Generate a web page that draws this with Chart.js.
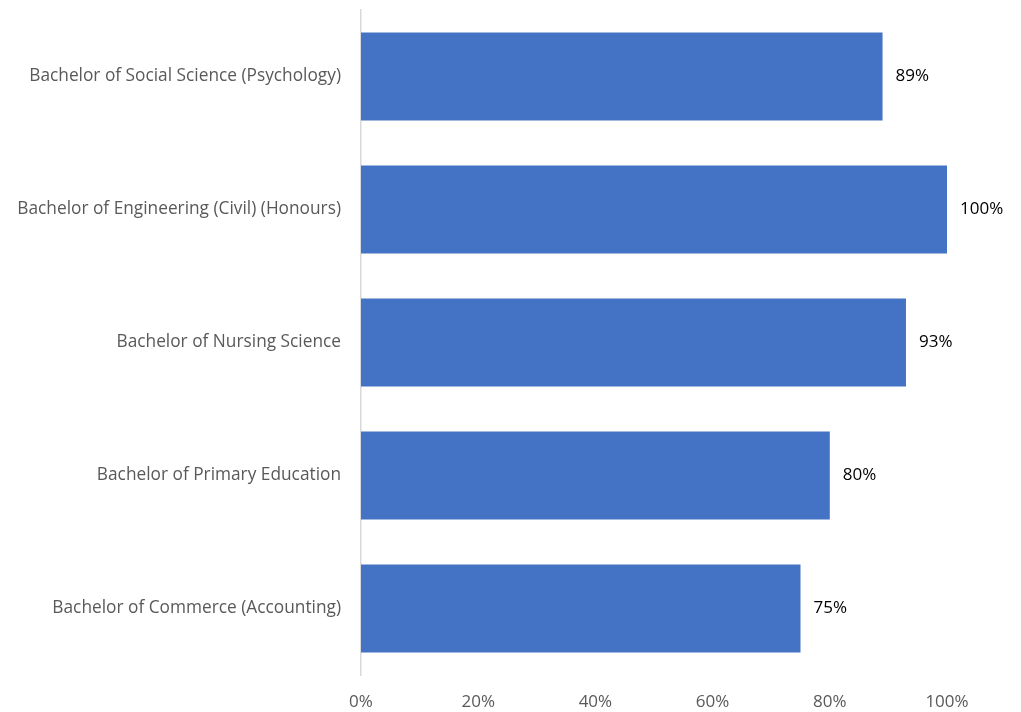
<!DOCTYPE html>
<html>
<head>
<meta charset="utf-8">
<script src="https://cdn.jsdelivr.net/npm/chart.js@4.4.0/dist/chart.umd.min.js"></script>
<style>
  html, body { margin: 0; padding: 0; background: #fff; }
  #chart { display: block; }
</style>
</head>
<body>
<canvas id="chart" width="1021" height="712"></canvas>
<script>
// Kategorien und Werte (in Prozent)
const categories = [
    "Bachelor of Social Science (Psychology)",
    "Bachelor of Engineering (Civil) (Honours)",
    "Bachelor of Nursing Science",
    "Bachelor of Primary Education",
    "Bachelor of Commerce (Accounting)",
];
const values = [89, 100, 93, 80, 75];
const xTicks = [0, 20, 40, 60, 80, 100];

const FONT = "'Open Sans', 'Noto Sans', sans-serif";

// Werte-Beschriftung rechts neben den Balken
const valueLabels = {
    id: "valueLabels",
    afterDatasetsDraw(chart) {
        const ctx = chart.ctx;
        const meta = chart.getDatasetMeta(0);
        ctx.save();
        ctx.font = "17px " + FONT;
        ctx.fillStyle = "#000";
        ctx.textAlign = "left";
        ctx.textBaseline = "middle";
        meta.data.forEach((bar, i) => {
            ctx.fillText(values[i] + "%", bar.x + 13, bar.y);
        });
        ctx.restore();
    },
};

const ctx = document.getElementById("chart").getContext("2d");
new Chart(ctx, {
    type: "bar",
    data: {
        labels: categories,
        datasets: [{
            data: values,
            backgroundColor: "#4472C4",
            categoryPercentage: 1,
            barPercentage: 0.66,
        }],
    },
    options: {
        indexAxis: "y",
        responsive: false,
        animation: false,
        devicePixelRatio: 1,
        layout: { padding: { top: 0, right: 74, left: 0, bottom: 0 } },
        plugins: { legend: { display: false }, tooltip: { enabled: false } },
        scales: {
            x: {
                min: 0,
                max: 100,
                afterBuildTicks: (s) => { s.ticks = xTicks.map((v) => ({ value: v })); },
                afterFit: (s) => { s.height = 37; },
                grid: { display: false, drawTicks: false },
                border: { display: false },
                ticks: {
                    padding: 17,
                    color: "#595959",
                    font: { family: FONT, size: 17 },
                    callback: (v) => v + "%",
                },
            },
            y: {
                // feste Breite, Abstand oben wie im Original
                afterFit: (s) => { s.width = 361; s.paddingTop = 10; s.paddingBottom = 0; },
                grid: { display: false, drawTicks: false },
                border: { display: true, color: "#d9d9d9", width: 1.5 },
                ticks: {
                    padding: 20,
                    color: "#595959",
                    font: { family: FONT, size: 17.3 },
                },
            },
        },
    },
    plugins: [valueLabels],
});
</script>
</body>
</html>
